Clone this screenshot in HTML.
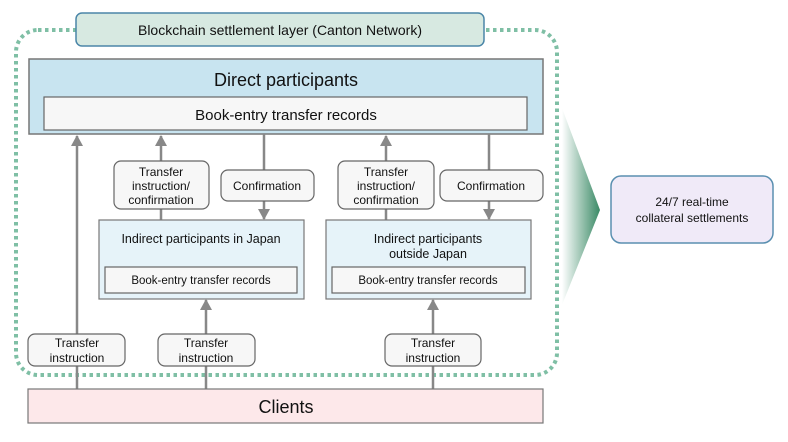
<!DOCTYPE html>
<html><head><meta charset="utf-8"><style>
html,body{margin:0;padding:0;background:#fff;}
svg text{font-family:"Liberation Sans",sans-serif;fill:#111;}
</style></head><body>
<svg width="788" height="437" viewBox="0 0 788 437" xmlns="http://www.w3.org/2000/svg">
<defs>
<linearGradient id="g" x1="0" x2="1" y1="0" y2="0">
<stop offset="0" stop-color="#ffffff"/><stop offset="1" stop-color="#3a8a66"/>
</linearGradient>
<marker id="ah" markerWidth="12" markerHeight="12" refX="10" refY="6" orient="auto" markerUnits="userSpaceOnUse">
<path d="M0,0 L11,6 L0,12 z" fill="#888"/></marker>
</defs>
<rect x="16" y="30" width="541" height="345" rx="22" fill="none" stroke="#7fbfa5" stroke-width="4" stroke-dasharray="3.5 3.5"/>
<rect x="76" y="13" width="408" height="33" rx="6" fill="#d7e9e1" stroke="#4b86a8" stroke-width="1.5"/>
<text x="280" y="35" text-anchor="middle" font-size="14">Blockchain settlement layer (Canton Network)</text>
<rect x="29" y="59" width="514" height="75" fill="#c8e4f0" stroke="#777" stroke-width="1.5"/>
<text x="286" y="86" text-anchor="middle" font-size="18">Direct participants</text>
<rect x="44" y="97" width="483" height="33" fill="#f7f7f7" stroke="#666" stroke-width="1.2"/>
<text x="286" y="120" text-anchor="middle" font-size="15">Book-entry transfer records</text>
<g stroke="#888" stroke-width="2.5" fill="none">
<line x1="77" y1="389" x2="77" y2="136" marker-end="url(#ah)"/>
<line x1="161" y1="220" x2="161" y2="136" marker-end="url(#ah)"/>
<line x1="264" y1="134" x2="264" y2="219" marker-end="url(#ah)"/>
<line x1="386" y1="220" x2="386" y2="136" marker-end="url(#ah)"/>
<line x1="489" y1="134" x2="489" y2="219" marker-end="url(#ah)"/>
<line x1="206" y1="389" x2="206" y2="300" marker-end="url(#ah)"/>
<line x1="433" y1="389" x2="433" y2="300" marker-end="url(#ah)"/>
</g>
<g fill="#f7f7f7" stroke="#666" stroke-width="1.2">
<rect x="114" y="161" width="95" height="48" rx="7"/>
<rect x="221" y="170" width="93" height="31" rx="7"/>
<rect x="338" y="161" width="96" height="48" rx="7"/>
<rect x="440" y="170" width="103" height="31" rx="7"/>
<rect x="28" y="334" width="97" height="32" rx="7"/>
<rect x="158" y="334" width="97" height="32" rx="7"/>
<rect x="385" y="334" width="96" height="32" rx="7"/>
</g>
<g font-size="12" text-anchor="middle">
<text x="161" y="176">Transfer</text><text x="161" y="190">instruction/</text><text x="161" y="204">confirmation</text>
<text x="267" y="190">Confirmation</text>
<text x="386" y="176">Transfer</text><text x="386" y="190">instruction/</text><text x="386" y="204">confirmation</text>
<text x="491" y="190">Confirmation</text>
<text x="77" y="347">Transfer</text><text x="77" y="362">instruction</text>
<text x="206" y="347">Transfer</text><text x="206" y="362">instruction</text>
<text x="433" y="347">Transfer</text><text x="433" y="362">instruction</text>
</g>
<rect x="99" y="220" width="205" height="79" fill="#e6f3f9" stroke="#777" stroke-width="1.2"/>
<text x="201" y="243" text-anchor="middle" font-size="12.5">Indirect participants in Japan</text>
<rect x="105" y="267" width="192" height="26" fill="#f7f7f7" stroke="#666" stroke-width="1.2"/>
<text x="201" y="284" text-anchor="middle" font-size="11.5">Book-entry transfer records</text>
<rect x="326" y="220" width="205" height="79" fill="#e6f3f9" stroke="#777" stroke-width="1.2"/>
<text x="428" y="243" text-anchor="middle" font-size="12.5">Indirect participants</text>
<text x="428" y="258" text-anchor="middle" font-size="12.5">outside Japan</text>
<rect x="332" y="267" width="193" height="26" fill="#f7f7f7" stroke="#666" stroke-width="1.2"/>
<text x="428" y="284" text-anchor="middle" font-size="11.5">Book-entry transfer records</text>
<rect x="28" y="389" width="515" height="34" fill="#fde8ea" stroke="#777" stroke-width="1.2"/>
<text x="286" y="413" text-anchor="middle" font-size="18">Clients</text>
<path d="M562,108 L600,210 L562,305 z" fill="url(#g)"/>
<rect x="611" y="176" width="162" height="67" rx="10" fill="#f0eaf8" stroke="#5a8fb0" stroke-width="1.5"/>
<text x="692" y="206" text-anchor="middle" font-size="12">24/7 real-time</text>
<text x="692" y="222" text-anchor="middle" font-size="12">collateral settlements</text>
</svg>
</body></html>
